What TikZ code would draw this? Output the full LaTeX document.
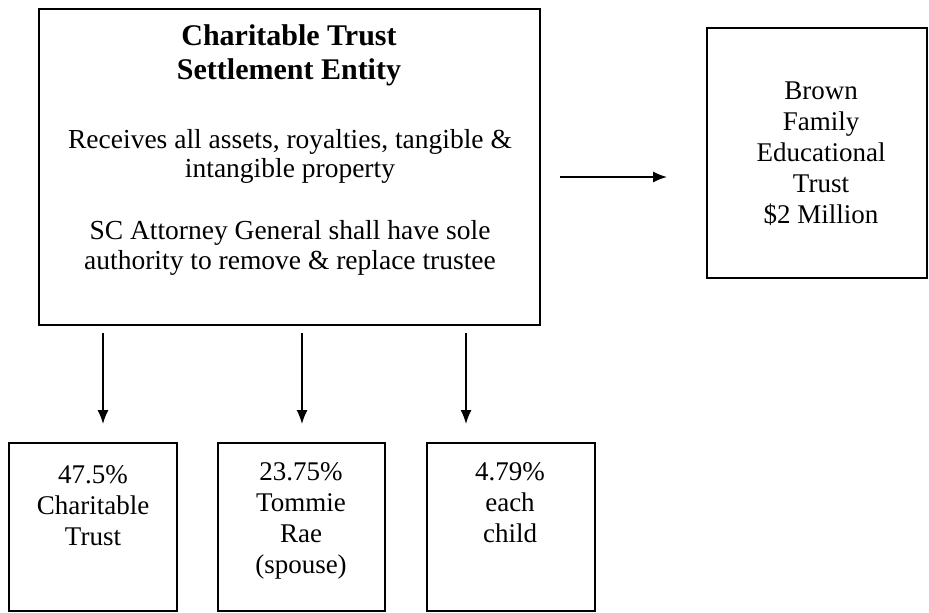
\documentclass[tikz,border=0pt]{standalone}
\usepackage{fontspec}
\setmainfont{Liberation Serif}
\usetikzlibrary{arrows.meta}
\tikzset{txt/.style={align=center,font=\fontsize{27}{31}\selectfont}}
\begin{document}
\begin{tikzpicture}[x=1pt,y=-1pt,>={Latex[length=14pt,width=11pt]}]
\useasboundingbox (0,0) rectangle (929,613);
        \draw[line width=2pt] (39,9) rectangle (540,325);
\node[txt,font=\fontsize{30}{34}\selectfont\bfseries] (title) at (289,55) {Charitable Trust\\Settlement Entity};
\node[txt,font=\fontsize{27.5}{29}\selectfont] (assets) at (290,156) {Receives all assets, royalties, tangible \&\\intangible property};
\node[txt,font=\fontsize{27.5}{30}\selectfont] (ag) at (290,248) {SC Attorney General shall have sole\\authority to remove \& replace trustee};
\draw[line width=2pt] (707,28) rectangle (927,278); \node[txt] (brown) at (821,154) {Brown\\Family\\Educational\\Trust\\\$2 Million};
\draw[line width=2pt] (9,443) rectangle (177,611);  \node[txt] (charity) at (93,506) {47.5\%\\Charitable\\Trust};
\draw[line width=2pt] (218,443) rectangle (385,611); \node[txt] (spouse) at (301,521) {23.75\%\\Tommie\\Rae\\(spouse)};
\draw[line width=2pt] (427,443) rectangle (595,611); \node[txt] (child) at (510,503) {4.79\%\\each\\child};
\coordinate (r1) at (560,177); \coordinate (r2) at (667,177);
\draw[->,line width=1.5pt] (r1)--(r2);
\coordinate (d1) at (103,333); \coordinate (e1) at (103,424);
\coordinate (d2) at (302,333); \coordinate (e2) at (302,424);
\coordinate (d3) at (466,333); \coordinate (e3) at (466,424);
\foreach \i in {1,2,3} \draw[->,line width=1.5pt] (d\i)--(e\i);
    \end{tikzpicture}
\end{document}
